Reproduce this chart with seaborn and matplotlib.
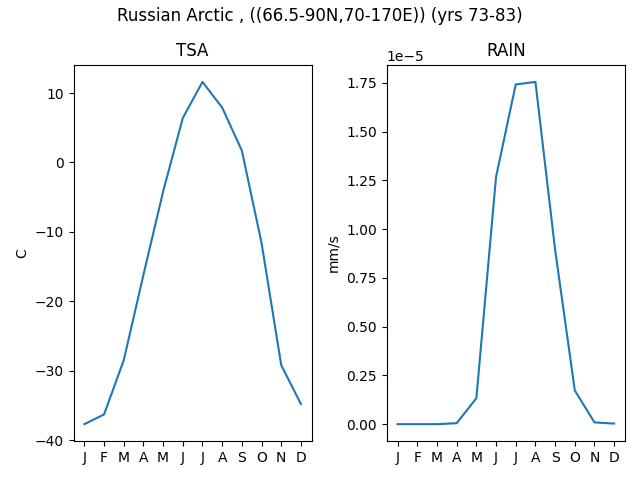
import matplotlib
matplotlib.use("Agg")
import matplotlib.pyplot as plt
import seaborn as sns
import pandas as pd

months = ["J", "F", "M", "A", "M", "J", "J", "A", "S", "O", "N", "D"]
tsa = [-37.7, -36.3, -28.5, -16.2, -4.2, 6.4, 11.6, 7.9, 1.7, -11.6, -29.2, -34.8]
rain = [0.0, 0.0, 0.0, 0.005e-5, 0.133e-5, 1.268e-5, 1.742e-5, 1.755e-5,
        0.895e-5, 0.173e-5, 0.009e-5, 0.003e-5]

df = pd.DataFrame({"m": range(12), "TSA": tsa, "RAIN": rain})

fig, axes = plt.subplots(1, 2, figsize=(6.4, 4.8), dpi=100)
fig.suptitle("Russian Arctic , ((66.5-90N,70-170E)) (yrs 73-83)", y=0.985)

for ax, var, unit in zip(axes, ["TSA", "RAIN"], ["C", "mm/s"]):
    sns.lineplot(data=df, x="m", y=var, ax=ax)
    ax.set_title(var)
    ax.set_ylabel(unit)
    ax.set_xlabel("")
    ax.set_xticks(range(12))
    ax.set_xticklabels(months)

fig.tight_layout()
fig.subplots_adjust(top=0.865)
fig.savefig("out.png")
